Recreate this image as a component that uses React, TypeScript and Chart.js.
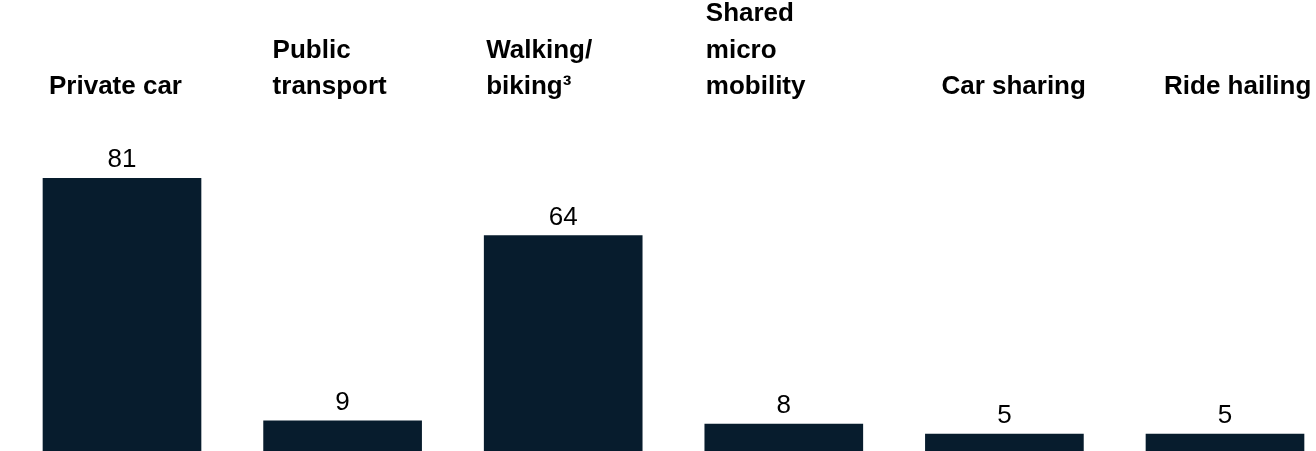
import React, { useEffect, useRef } from "react";
import { Chart, registerables } from "chart.js";

Chart.register(...registerables);

const categories: string[] = [
  "Private car",
  "Public\ntransport",
  "Walking/\nbiking³",
  "Shared\nmicro\nmobility",
  "Car sharing",
  "Ride hailing",
];
const values: number[] = [81, 9, 64, 8, 5, 5];

// layout constants (not data)
const LABEL_NUDGE = [6, 9, 2, 1, 16, 18];
const BAR_COLOR = "#071c2d";

const textPlugin = {
  id: "textPlugin",
  afterDraw(chart: any) {
    const ctx = chart.ctx;
    const meta = chart.getDatasetMeta(0);
    ctx.save();
    meta.data.forEach((bar: any, i: number) => {
      // value label
      ctx.font = "26px 'Liberation Sans', Arial, sans-serif";
      ctx.fillStyle = "#000";
      ctx.textAlign = "center";
      ctx.textBaseline = "alphabetic";
      ctx.fillText(String(values[i]), bar.x, bar.y - 11);
      // category label
      const lines = categories[i].split("\n");
      ctx.font = "bold 26px 'Liberation Sans', Arial, sans-serif";
      ctx.textAlign = "left";
      const left = bar.x - bar.width / 2 + LABEL_NUDGE[i];
      const lastBaseline = 94;
      const lh = 36.5;
      lines.forEach((ln, j) => {
        const y = lastBaseline - (lines.length - 1 - j) * lh;
        ctx.fillText(ln, left, y);
      });
    });
    ctx.restore();
  },
};

export default function App() {
  const ref = useRef<HTMLCanvasElement | null>(null);
  useEffect(() => {
    if (!ref.current) return;
    const spacing = 220.6;
    const firstCenter = 122;
    const width = 1316;
    const xmin = -firstCenter / spacing;
    const xmax = xmin + width / spacing;
    const chart = new Chart(ref.current, {
      type: "bar",
      data: {
        datasets: [
          {
            data: values.map((v, i) => ({ x: i, y: v })),
            backgroundColor: BAR_COLOR,
            borderWidth: 0,
            barThickness: 158,
          },
        ],
      },
      options: {
        animation: false,
        responsive: true,
        maintainAspectRatio: false,
        layout: { padding: 0 },
        plugins: { legend: { display: false }, tooltip: { enabled: false } },
        scales: {
          x: {
            type: "linear",
            min: xmin,
            max: xmax,
            offset: false,
            display: false,
          },
          y: { min: 0, max: 134, display: false },
        },
      },
      plugins: [textPlugin],
    });
    return () => chart.destroy();
  }, []);
  return (
    <div
      style={{
        position: "fixed",
        left: 0,
        top: 0,
        width: 1316,
        height: 451,
        background: "#fff",
      }}
    >
      <canvas ref={ref} />
    </div>
  );
}
